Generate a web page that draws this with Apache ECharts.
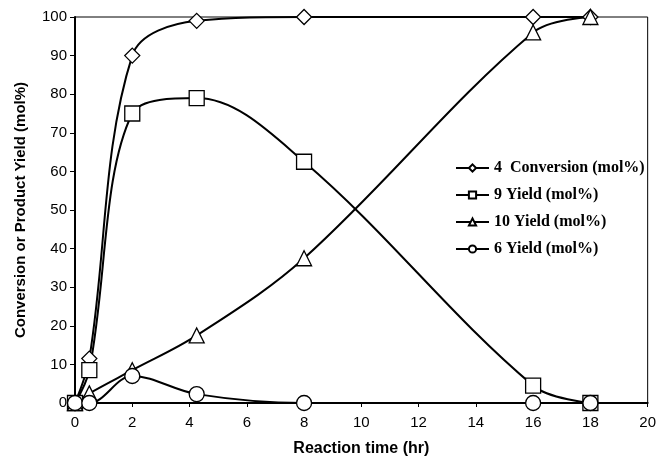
<!DOCTYPE html>
<html>
<head>
<meta charset="utf-8">
<script src="https://cdn.jsdelivr.net/npm/echarts@6/dist/echarts.min.js"></script>
<style>html,body{margin:0;padding:0;background:#fff;}#c{width:659px;height:462px;}</style>
</head>
<body>
<div id="c"></div>
<script>
var times = [0, 0.5, 2, 4.25, 8, 16, 18];
var conversion4 = [0, 11.5, 90, 99, 100, 100, 100];
var yield9 = [0, 8.5, 75, 79, 62.5, 4.5, 0];
var yield10 = [0, 2.5, 8.5, 17.5, 37.5, 96, 100];
var yield6 = [0, 0, 7, 2.3, 0, 0, 0];
var seriesNames = ['4  Conversion (mol%)', '9 Yield (mol%)', '10 Yield (mol%)', '6 Yield (mol%)'];
var xTicks = [0, 2, 4, 6, 8, 10, 12, 14, 16, 18, 20];
var yTicks = [0, 10, 20, 30, 40, 50, 60, 70, 80, 90, 100];

function pairs(vals) { return times.map(function (t, i) { return [t, vals[i]]; }); }

function mk(name, vals, symbol) {
  return {
    name: name, type: 'line', data: pairs(vals), smooth: 0.35,
    symbol: symbol, symbolSize: 15,
    lineStyle: { color: '#000', width: 2 },
    itemStyle: { color: '#fff', borderColor: '#000', borderWidth: 1.3 },
    emphasis: { disabled: true }
  };
}

var chart = echarts.init(document.getElementById('c'), null, { renderer: 'canvas' });
chart.setOption({
  animation: false,
  backgroundColor: '#fff',
  grid: { left: 75, right: 9, top: 17, bottom: 58, show: true, borderColor: '#000', borderWidth: 1, backgroundColor: 'transparent' },
  legend: {
    orient: 'vertical', left: 450, top: 155,
    itemWidth: 33, itemHeight: 9, itemGap: 11,
    data: seriesNames,
    textStyle: { fontFamily: 'Liberation Serif', fontWeight: 'bold', fontSize: 16, color: '#000', lineHeight: 16 }
  },
  xAxis: {
    type: 'value', min: xTicks[0], max: xTicks[xTicks.length - 1], interval: 2,
    name: 'Reaction time (hr)', nameLocation: 'middle', nameGap: 38,
    nameTextStyle: { fontFamily: 'Liberation Sans', fontWeight: 'bold', fontSize: 16, color: '#000' },
    axisLine: { lineStyle: { color: '#000', width: 2 } },
    axisTick: { show: true, inside: false, length: 4, lineStyle: { color: '#000', width: 1 } },
    axisLabel: { fontFamily: 'Liberation Sans', fontSize: 15, color: '#000', margin: 12 },
    splitLine: { show: false }
  },
  yAxis: {
    type: 'value', min: yTicks[0], max: yTicks[yTicks.length - 1], interval: 10,
    name: 'Conversion or Product Yield (mol%)', nameLocation: 'middle', nameGap: 47,
    nameTextStyle: { fontFamily: 'Liberation Sans', fontWeight: 'bold', fontSize: 15, color: '#000' },
    axisLine: { show: true, lineStyle: { color: '#000', width: 2 } },
    axisTick: { show: true, inside: false, length: 5, lineStyle: { color: '#000', width: 1 } },
    axisLabel: { fontFamily: 'Liberation Sans', fontSize: 15, color: '#000', margin: 8 },
    splitLine: { show: false }
  },
  series: [
    mk(seriesNames[0], conversion4, 'diamond'),
    mk(seriesNames[1], yield9, 'rect'),
    mk(seriesNames[2], yield10, 'triangle'),
    mk(seriesNames[3], yield6, 'circle')
  ]
});
</script>
</body>
</html>
